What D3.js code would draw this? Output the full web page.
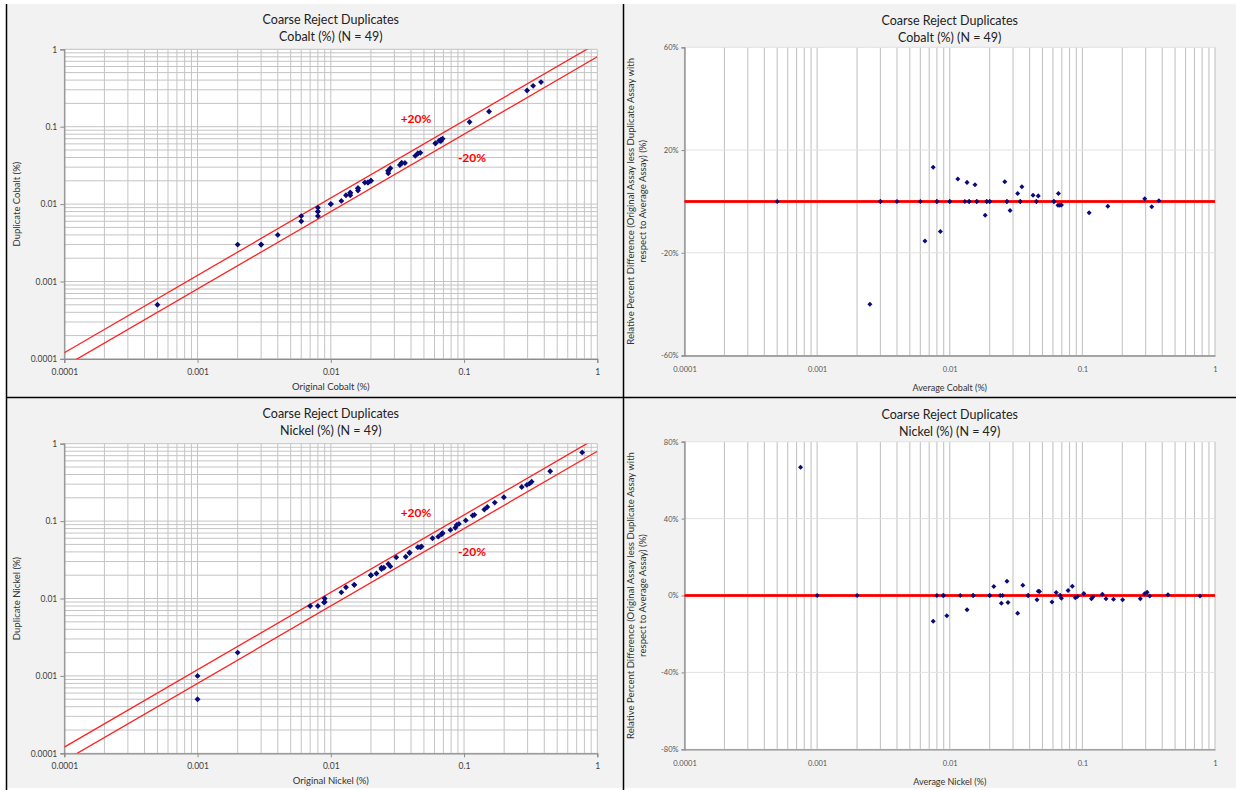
<!DOCTYPE html>
<html><head><meta charset="utf-8">
<script src="https://cdn.jsdelivr.net/npm/d3@7"></script>
<style>
html,body{margin:0;padding:0;background:#fff;}
svg{display:block;font-family:Lato,"Liberation Sans",sans-serif;}
</style></head>
<body>
<svg id="c" width="1236" height="790"></svg>
<script>
// ---------- DATA ----------
const logTickLabels = ["0.0001","0.001","0.01","0.1","1"];
const coOriginal  = [0.0005,0.002,0.003,0.004,0.006,0.006,0.008,0.008,0.008,0.010,0.012,0.013,0.014,0.014,0.016,0.016,0.018,0.019,0.020,0.027,0.027,0.028,0.033,0.034,0.036,0.043,0.045,0.047,0.061,0.067,0.065,0.067,0.069,0.110,0.154,0.297,0.330,0.378,
                     0.003,0.008,0.010,0.014,0.016,0.019,0.020,0.027,0.034,0.045,0.061];
const coDuplicate = [0.0005,0.003,0.003,0.004,0.006,0.007,0.007,0.008,0.009,0.010,0.011,0.013,0.013,0.014,0.015,0.016,0.019,0.019,0.020,0.025,0.027,0.029,0.032,0.034,0.034,0.042,0.045,0.046,0.061,0.065,0.066,0.068,0.070,0.115,0.157,0.294,0.337,0.377,
                     0.003,0.008,0.010,0.014,0.016,0.019,0.020,0.027,0.034,0.045,0.061];
const niOriginal  = [0.001,0.001,0.002,0.007,0.008,0.009,0.009,0.012,0.013,0.015,0.020,0.022,0.024,0.024,0.027,0.028,0.031,0.0365,0.039,0.045,0.047,0.048,0.058,0.064,0.068,0.069,0.079,0.086,0.088,0.0915,0.103,0.116,0.1195,0.142,0.1495,0.170,0.199,0.271,0.296,0.310,0.3215,0.443,0.770,
                     0.0089,0.015,0.020,0.025,0.039,0.068];
const niDuplicate = [0.0005,0.001,0.002,0.008,0.008,0.009,0.010,0.012,0.014,0.015,0.020,0.021,0.024,0.025,0.028,0.026,0.034,0.0346,0.039,0.046,0.046,0.047,0.060,0.063,0.068,0.070,0.077,0.082,0.089,0.092,0.102,0.118,0.1205,0.141,0.152,0.1733,0.2034,0.2757,0.2933,0.305,0.3225,0.441,0.772,
                     0.0089,0.015,0.020,0.025,0.039,0.068];
const coRpdTicks = [60,20,-20,-60];
const niRpdTicks = [80,40,0,-40,-80];
const titles = {co:["Coarse Reject Duplicates","Cobalt (%) (N = 49)"], ni:["Coarse Reject Duplicates","Nickel (%) (N = 49)"]};
const bandLabels = ["+20%","-20%"];
const rpdTitle = ["Relative Percent Difference (Original Assay less Duplicate Assay with","respect to Average Assay) (%)"];

// ---------- LAYOUT ----------
const svg = d3.select("#c");
svg.append("rect").attr("x",7).attr("y",4).attr("width",1229).attr("height",784).attr("fill","#f2f2f2");
svg.append("line").attr("x1",6.5).attr("x2",6.5).attr("y1",4).attr("y2",790).attr("stroke","#000").attr("stroke-width",1.5);
svg.append("line").attr("x1",623.5).attr("x2",623.5).attr("y1",4).attr("y2",790).attr("stroke","#000").attr("stroke-width",1.5);
svg.append("line").attr("x1",6).attr("x2",1236).attr("y1",397.5).attr("y2",397.5).attr("stroke","#000").attr("stroke-width",1.5);

const GRID = "#c4c4c4", AXIS="#8c8c8c", TXT="#404040", PT="#0a0a78";
const logGridVals = [];
for (let e=-4;e<0;e++) for (let m=1;m<10;m++) logGridVals.push(m*Math.pow(10,e));
logGridVals.push(1);
const majors = [0.0001,0.001,0.01,0.1,1];

function titleText(cx, y, lines){
  lines.forEach((t,i)=>svg.append("text").attr("x",cx).attr("y",y+i*16.5).attr("text-anchor","middle")
    .attr("font-size",12.5).attr("fill","#222").text(t));
}

function scatterPanel(oy, orig, dup, lab, key, xTitle, yTitle){
  const L=64.3,R=597.3,T=49.3+oy,B=358.9+oy;
  const x=d3.scaleLog().domain([0.0001,1]).range([L,R]);
  const y=d3.scaleLog().domain([0.0001,1]).range([B,T]);
  titleText((L+R)/2, 24+oy, titles[key]);
  const g=svg.append("g");
  g.append("rect").attr("x",L).attr("y",T).attr("width",R-L).attr("height",B-T).attr("fill","#fff");
  g.selectAll(".vg").data(logGridVals).join("line").attr("x1",d=>x(d)).attr("x2",d=>x(d)).attr("y1",T).attr("y2",B).attr("stroke",GRID).attr("stroke-width",1);
  g.selectAll(".hg").data(logGridVals).join("line").attr("y1",d=>y(d)).attr("y2",d=>y(d)).attr("x1",L).attr("x2",R).attr("stroke",GRID).attr("stroke-width",1);
  const fmt=d=>logTickLabels[majors.indexOf(d)];
  const ax=g.append("g").attr("transform",`translate(0,${B})`).call(d3.axisBottom(x).tickValues(majors).tickFormat(fmt).tickSize(4).tickPadding(6));
  const ay=g.append("g").attr("transform",`translate(${L},0)`).call(d3.axisLeft(y).tickValues(majors).tickFormat(fmt).tickSize(4).tickPadding(3));
  [ax,ay].forEach(a=>{a.select(".domain").attr("stroke",AXIS).attr("stroke-width",1.2);a.selectAll(".tick line").attr("stroke",AXIS);
    a.selectAll("text").attr("font-size",8.5).attr("fill",TXT).attr("font-family","Lato, sans-serif");});
  const clipId="clip"+key;
  svg.append("clipPath").attr("id",clipId).append("rect").attr("x",L).attr("y",T).attr("width",R-L).attr("height",B-T);
  const lg=g.append("g").attr("clip-path",`url(#${clipId})`);
  const ends=[0.0001,1];
  [1.2,0.8].forEach(f=>{
    lg.append("path").attr("d",d3.line().x(d=>x(d)).y(d=>y(d*f))(ends)).attr("stroke","#ff2020").attr("stroke-width",1.3).attr("fill","none");
  });
  g.append("text").attr("x",416).attr("y",123+oy).attr("text-anchor","middle").attr("font-size",12).attr("font-weight","bold").attr("fill","#ff0000").text(bandLabels[0]);
  g.append("text").attr("x",472).attr("y",162+oy).attr("text-anchor","middle").attr("font-size",12).attr("font-weight","bold").attr("fill","#ff0000").text(bandLabels[1]);
  g.selectAll(".pt").data(orig.map((o,i)=>[o,dup[i]])).join("path")
    .attr("d",d3.symbol(d3.symbolDiamond2,22)).attr("transform",d=>`translate(${x(d[0])},${y(d[1])})`).attr("fill",PT);
  g.append("text").attr("x",(L+R)/2).attr("y",390+oy).attr("text-anchor","middle").attr("font-size",9.5).attr("fill","#333").text(xTitle);
  g.append("text").attr("transform",`translate(20,${(T+B)/2}) rotate(-90)`).attr("text-anchor","middle").attr("font-size",9.5).attr("fill","#333").text(yTitle);
}

function rpdPanel(oy, orig, dup, key, ticks, xTitle, B0, T0){
  const L=684.5,R=1215,T=T0+oy,B=B0+oy;
  const x=d3.scaleLog().domain([0.0001,1]).range([L,R]);
  const ext=ticks[0];
  const y=d3.scaleLinear().domain([-ext,ext]).range([B,T]);
  titleText((L+R)/2, 25+oy, titles[key]);
  const g=svg.append("g");
  g.append("rect").attr("x",L).attr("y",T).attr("width",R-L).attr("height",B-T).attr("fill","#fff");
  g.selectAll(".vg").data(logGridVals).join("line").attr("x1",d=>x(d)).attr("x2",d=>x(d)).attr("y1",T).attr("y2",B).attr("stroke",GRID).attr("stroke-width",1.1);
  g.selectAll(".hg").data(ticks).join("line").attr("y1",d=>y(d)).attr("y2",d=>y(d)).attr("x1",L).attr("x2",R).attr("stroke","#e2e2e2").attr("stroke-width",1);
  const fmt=d=>logTickLabels[majors.indexOf(d)];
  const ax=g.append("g").attr("transform",`translate(0,${B})`).call(d3.axisBottom(x).tickValues(majors).tickFormat(fmt).tickSize(0).tickPadding(11));
  const ay=g.append("g").attr("transform",`translate(${L},0)`).call(d3.axisLeft(y).tickValues(ticks).tickFormat(d=>d+"%").tickSize(3).tickPadding(3));
  [ax,ay].forEach(a=>{a.select(".domain").attr("stroke",AXIS).attr("stroke-width",1.3);a.selectAll(".tick line").attr("stroke",AXIS);
    a.selectAll("text").attr("font-size",7.5).attr("fill","#555").attr("font-family","Lato, sans-serif");});
  g.append("line").attr("x1",L).attr("x2",R).attr("y1",y(0)).attr("y2",y(0)).attr("stroke","#ff1a1a").attr("stroke-width",3);
  g.append("line").attr("x1",L).attr("x2",R).attr("y1",y(0)).attr("y2",y(0)).attr("stroke","#e00000").attr("stroke-width",1);
  const pts=orig.map((o,i)=>{const a=(o+dup[i])/2;return [a,(o-dup[i])/a*100];});
  g.selectAll(".pt").data(pts).join("path")
    .attr("d",d3.symbol(d3.symbolDiamond2,16)).attr("transform",d=>`translate(${x(d[0])},${y(d[1])})`).attr("fill",PT);
  g.append("text").attr("x",(L+R)/2).attr("y",391+oy).attr("text-anchor","middle").attr("font-size",9).attr("fill","#333").text(xTitle);
  rpdTitle.forEach((t,i)=>g.append("text").attr("transform",`translate(${634+i*12},${(T+B)/2}) rotate(-90)`).attr("text-anchor","middle").attr("font-size",9.6).attr("fill","#333").text(t));
}

scatterPanel(0, coOriginal, coDuplicate, bandLabels, "co", "Original Cobalt (%)", "Duplicate Cobalt (%)");
scatterPanel(394.4, niOriginal, niDuplicate, bandLabels, "ni", "Original Nickel (%)", "Duplicate Nickel (%)");
rpdPanel(0, coOriginal, coDuplicate, "co", coRpdTicks, "Average Cobalt (%)", 355.5, 47.3);
rpdPanel(394.4, niOriginal, niDuplicate, "ni", niRpdTicks, "Average Nickel (%)", 354.9, 47.3);
</script>
</body></html>
